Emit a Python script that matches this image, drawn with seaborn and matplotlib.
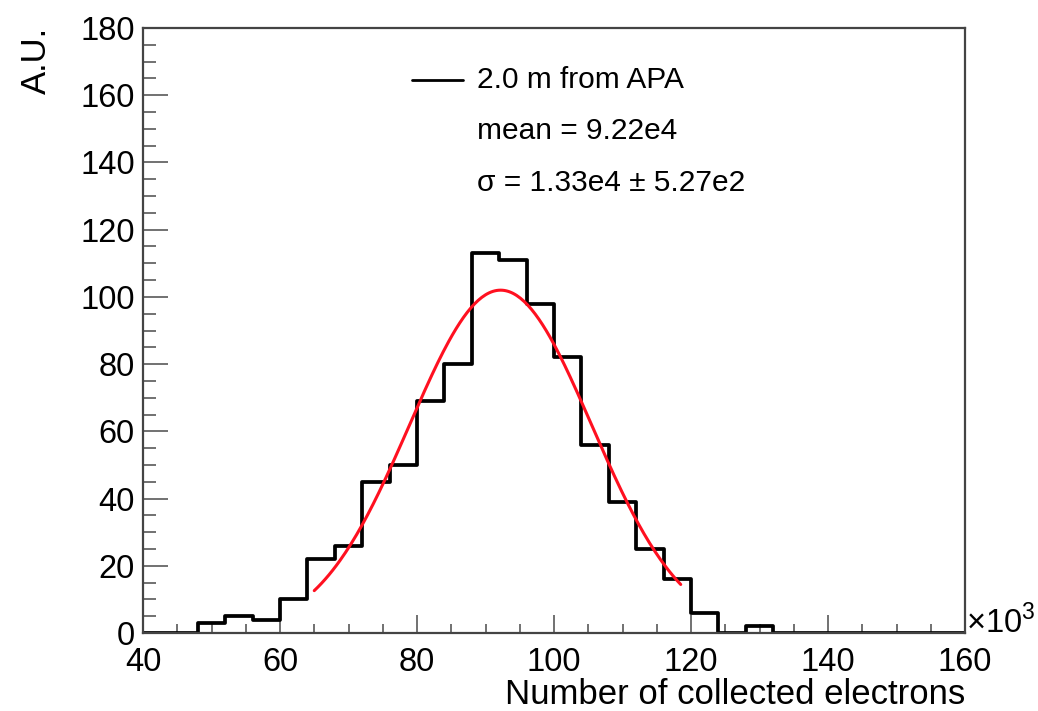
import numpy as np
import pandas as pd
import matplotlib
matplotlib.use("Agg")
import matplotlib.pyplot as plt
from matplotlib.ticker import MultipleLocator
import seaborn as sns

# ---- data (x in units of 10^3 electrons) ----
bin_edges = list(range(40, 164, 4))
counts = [0, 0, 3, 5, 4, 10, 22, 26, 45, 50, 69, 80, 113, 111, 98, 82, 56, 39, 25, 16,
          6, 0, 2, 0, 0, 0, 0, 0, 0, 0]
fit_mean = 92.2
fit_sigma = 13.3
fit_amp = 102.0
fit_range = [65.0, 118.5]
legend_lines = ["2.0 m from APA", "mean = 9.22e4", "\u03c3 = 1.33e4 \u00b1 5.27e2"]
xlabel = "Number of collected electrons"
ylabel = "A.U."

sns.set_theme(style="ticks")
plt.rcParams["font.family"] = ["Liberation Sans", "DejaVu Sans"]
plt.rcParams["mathtext.fontset"] = "custom"
plt.rcParams["mathtext.rm"] = "Liberation Sans"
plt.rcParams["text.color"] = "black"
plt.rcParams["xtick.labelcolor"] = "black"
plt.rcParams["ytick.labelcolor"] = "black"

fig = plt.figure(figsize=(10.38, 7.11), dpi=100)
ax = fig.add_axes([143 / 1038, (711 - 633) / 711, 822 / 1038, 605 / 711])

centers = [(bin_edges[i] + bin_edges[i + 1]) / 2 for i in range(len(counts))]
df = pd.DataFrame({"x": centers, "w": counts})
sns.histplot(data=df, x="x", weights="w", bins=bin_edges, element="step", fill=False,
             color="black", linewidth=2.7, ax=ax)

xs = np.linspace(fit_range[0], fit_range[1], 200)
ys = fit_amp * np.exp(-0.5 * ((xs - fit_mean) / fit_sigma) ** 2)
sns.lineplot(x=xs, y=ys, color="#ff1020", linewidth=2.2, ax=ax)

ax.set_xlim(40, 160)
ax.set_ylim(0, 180)
ax.xaxis.set_major_locator(MultipleLocator(20))
ax.xaxis.set_minor_locator(MultipleLocator(5))
ax.yaxis.set_major_locator(MultipleLocator(20))
ax.yaxis.set_minor_locator(MultipleLocator(5))

for s in ax.spines.values():
    s.set_visible(True)
    s.set_color("#444444")
    s.set_linewidth(1.6)

ax.tick_params(axis="y", which="major", direction="in", length=18, width=1.3, color="#666666",
               labelsize=23.5, pad=6, labelcolor="black")
ax.tick_params(axis="y", which="minor", direction="in", length=9.5, width=1.3, color="#666666")
ax.tick_params(axis="x", which="major", direction="in", length=13, width=1.3, color="#666666",
               labelsize=23.5, pad=10, labelcolor="black")
ax.tick_params(axis="x", which="minor", direction="in", length=6.5, width=1.3, color="#666666")

ax.set_xlabel("")
ax.set_ylabel("")
fig.text(965 / 1038, 1 - 694 / 711, xlabel, ha="right", va="center", fontsize=25, color="black")
fig.text(36 / 1038, 1 - 27 / 711, ylabel, ha="center", va="top", rotation=90, fontsize=25,
         color="black")
fig.text(966 / 1038, 1 - 622 / 711, r"$\times10^{3}$", ha="left", va="center", fontsize=23.5,
         color="black")

# legend-like text box
lx0, lx1, ly = 412 / 1038, 463 / 1038, 1 - 80 / 711
fig.add_artist(plt.Line2D([lx0, lx1], [ly, ly], color="black", linewidth=2.0,
                          transform=fig.transFigure))
tys = [80, 131, 183]
for t, yy in zip(legend_lines, tys):
    fig.text(477 / 1038, 1 - yy / 711, t, ha="left", va="center", fontsize=21.5, color="black")

fig.savefig("out.png", dpi=100)
